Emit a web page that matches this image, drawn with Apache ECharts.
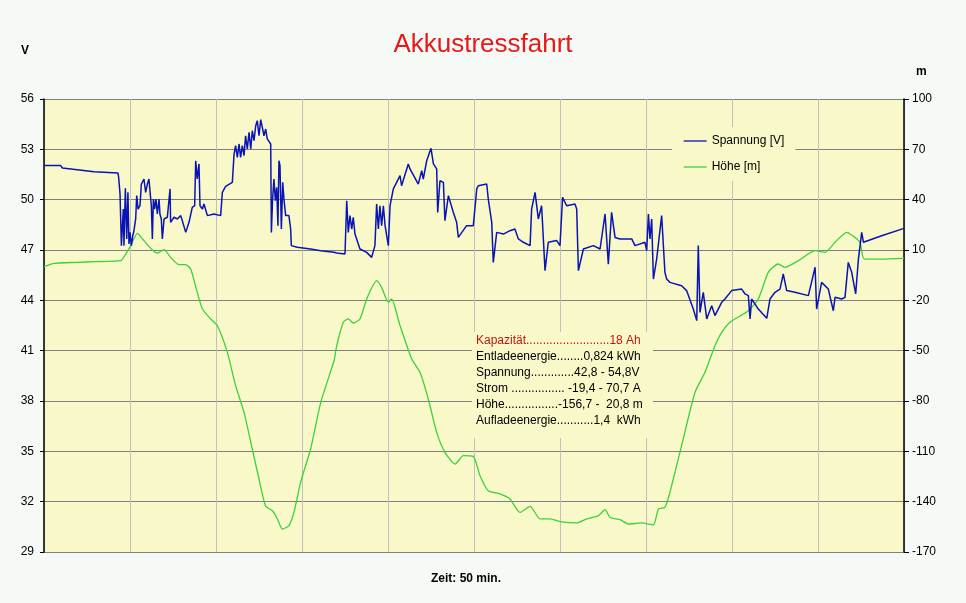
<!DOCTYPE html>
<html>
<head>
<meta charset="utf-8">
<script src="https://cdn.jsdelivr.net/npm/echarts@6/dist/echarts.min.js"></script>
<style>
html,body{margin:0;padding:0;background:#f5faf7;}
#chart{width:966px;height:603px;}
</style>
</head>
<body>
<div id="chart"></div>
<script>
// Zeit [min], Spannung [V]
var spannungData = [
[0,52.03],[0.97,52.03],[1.07,51.89],[1.94,51.79],[2.91,51.67],[4.30,51.59],[4.34,51.33],[4.42,50.34],[4.50,47.26],[4.57,47.16],
[4.61,49.44],[4.65,47.26],[4.73,50.68],[4.81,47.66],[4.88,50.44],[4.94,47.36],[5.00,48.05],[5.08,47.26],[5.16,47.85],[5.23,48.15],
[5.33,48.85],[5.39,50.24],[5.47,49.44],[5.58,49.64],[5.66,50.93],[5.74,50.83],[5.81,51.23],[5.91,50.44],[6.01,50.93],[6.10,51.23],
[6.20,51.33],[6.24,49.64],[6.30,47.66],[6.36,50.04],[6.43,49.44],[6.51,50.04],[6.59,49.15],[6.69,50.04],[6.74,49.15],[6.82,48.85],
[6.88,47.66],[6.98,48.85],[7.17,48.95],[7.33,50.64],[7.36,48.65],[7.56,48.95],[7.75,48.85],[7.95,49.05],[8.04,48.75],[8.24,48.05],
[8.43,48.65],[8.62,49.54],[8.76,49.64],[8.82,52.32],[8.91,51.23],[9.01,52.13],[9.07,49.64],[9.21,49.44],[9.30,49.74],[9.50,49.05],
[9.88,49.15],[10.27,49.05],[10.37,50.44],[10.56,50.79],[10.95,51.03],[11.01,51.07],[11.05,52.72],[11.14,53.22],[11.24,52.52],[11.34,53.32],
[11.43,52.52],[11.53,53.22],[11.63,52.62],[11.72,53.81],[11.82,53.02],[11.92,54.01],[12.02,53.02],[12.11,54.11],[12.21,53.52],[12.31,54.41],
[12.40,54.71],[12.50,53.81],[12.60,54.77],[12.69,54.71],[12.79,53.81],[12.89,54.21],[12.98,53.62],[13.08,53.72],[13.18,53.32],[13.22,48.05],
[13.29,50.04],[13.37,51.23],[13.45,49.94],[13.53,50.73],[13.60,48.45],[13.66,52.32],[13.72,52.03],[13.80,48.25],[13.88,51.03],[13.95,50.04],
[14.05,49.05],[14.15,49.15],[14.24,49.05],[14.34,48.25],[14.38,47.26],[14.73,47.16],[15.50,47.06],[16.09,46.96],[16.86,46.86],
[17.02,46.82],[17.50,46.76],[17.60,49.94],[17.69,48.05],[17.79,49.05],[17.89,48.25],[17.98,48.95],[18.08,47.95],[18.37,47.06],[18.76,46.86],
[19.05,46.56],[19.24,47.26],[19.34,49.74],[19.44,48.25],[19.53,49.64],[19.63,48.45],[19.73,49.64],[19.83,48.45],[20.02,47.26],[20.12,49.64],
[20.31,50.64],[20.70,51.43],[20.79,50.83],[21.18,52.13],[21.28,51.83],[21.76,50.93],[21.96,51.73],[22.05,51.23],[22.25,52.32],[22.50,53.06],
[22.64,52.13],[22.83,51.83],[22.89,49.24],[23.02,51.13],[23.22,51.03],[23.31,48.75],[23.51,50.24],[23.80,49.24],[23.99,48.65],[24.09,47.75],
[24.57,48.45],[24.96,48.45],[25.16,50.64],[25.25,50.83],[25.74,50.93],[25.83,50.04],[26.03,48.65],[26.12,46.26],[26.32,48.05],[26.71,47.95],
[27.09,48.15],[27.38,48.25],[27.58,47.66],[27.87,47.46],[28.26,47.26],[28.35,49.44],[28.55,50.44],[28.74,48.85],[28.93,49.64],[29.13,45.77],
[29.32,47.46],[29.81,47.56],[30.00,47.26],[30.15,50.14],[30.39,49.64],[30.87,49.74],[30.97,49.44],[31.07,45.77],[31.36,47.06],[31.94,47.26],
[32.33,47.06],[32.62,49.15],[32.81,46.16],[33.00,49.24],[33.20,47.75],[33.49,47.66],
[34.17,47.66],[34.36,47.26],[34.94,47.46],[35.04,46.96],[35.14,49.15],[35.23,47.66],[35.33,48.85],[35.43,45.27],[35.62,46.46],[35.91,49.05],
[36.10,45.67],[36.20,45.27],[36.39,45.07],[37.07,44.87],[37.36,44.58],[37.75,43.48],[37.95,42.79],[38.04,47.26],[38.14,43.28],[38.33,44.48],
[38.53,42.89],[38.82,43.68],[39.01,43.09],[39.40,43.88],[39.59,44.08],[39.98,44.58],[40.56,44.67],[40.76,44.38],[40.95,44.28],[41.05,42.89],
[41.14,44.08],[41.53,43.48],[42.02,42.93],[42.21,44.08],[42.50,44.48],[42.79,44.67],[42.98,45.57],[43.18,44.58],[43.66,44.48],[44.44,44.28],
[44.83,45.97],[44.92,43.48],[45.21,45.07],[45.60,44.67],[45.89,43.38],[45.99,44.18],[46.38,44.08],[46.57,44.18],[46.76,46.26],[46.96,45.67],
[47.19,44.38],[47.35,46.46],[47.54,48.05],[47.64,47.46],[47.73,47.56],[48.70,47.85],[50.00,48.29]
];
// Zeit [min], Höhe [m]
var hoeheData = [
[0,0.06],[0.58,2.05],[1.94,2.64],[2.91,3.04],[4.46,3.64],[4.75,7.61],[5.04,12.58],[5.43,19.93],[5.81,15.56],[6.30,9.99],
[6.59,8.21],[6.98,10.19],[7.36,5.62],[7.85,1.25],[8.24,1.25],[8.53,-1.33],[8.91,-15.24],[9.21,-25.17],[9.69,-31.13],[10.08,-35.11],
[10.66,-51.0],[11.14,-70.87],[11.63,-86.77],[12.11,-108.6],[12.50,-126.5],[12.89,-142.8],[13.28,-145.4],[13.57,-150.3],[13.86,-156.3],[14.24,-154.3],
[14.53,-146.4],[14.92,-128.5],[15.50,-108.6],[16.09,-80.8],[16.86,-56.0],[17.02,-47.0],[17.40,-33.1],[17.69,-31.1],[17.98,-33.5],[18.37,-31.1],
[18.76,-19.2],[19.34,-8.3],[19.63,-12.3],[20.02,-21.2],[20.21,-19.2],[20.70,-35.1],[21.38,-55.0],[21.86,-62.9],[22.34,-78.8],[22.83,-98.7],
[23.31,-110.6],[23.90,-117.6],[24.38,-112.6],[24.96,-113.0],[25.35,-124.5],[25.83,-133.5],[26.51,-135.4],[27.09,-138.4],[27.67,-146.4],[28.26,-142.8],
[28.84,-150.3],[29.42,-150.3],[30.00,-151.9],[30.97,-152.7],[31.55,-150.3],[32.23,-148.4],[32.62,-144.8],[32.91,-149.4],[33.49,-150.7],[33.97,-153.3],
[34.75,-152.7],[35.43,-153.9],[35.72,-144.4],[36.10,-143.4],[36.39,-134.5],[37.07,-106.6],[37.85,-74.8],[38.43,-62.9],[39.01,-47.0],[39.40,-39.1],
[39.88,-33.1],[40.56,-28.8],[40.95,-26.2],[41.53,-19.2],[42.11,-3.3],[42.69,1.65],[43.08,-0.3],[43.86,3.64],[44.83,9.6],[45.41,8.6],
[45.99,14.6],[46.67,20.5],[47.15,17.5],[47.44,14.6],[47.69,4.6],[48.70,4.6],[50.00,5.0]
];
var seriesNames = ['Spannung [V]', 'Höhe [m]'];
var seriesColors = ['#0a14b4', '#3cd23c'];
var infoLines = [
  'Kapazität.........................18 Ah',
  'Entladeenergie........0,824 kWh',
  'Spannung.............42,8 - 54,8V',
  'Strom ................ -19,4 - 70,7 A',
  'Höhe................-156,7 -  20,8 m',
  'Aufladeenergie...........1,4  kWh'
];
var titleText = 'Akkustressfahrt';
var xName = 'Zeit: 50 min.';

var FONT = '"Liberation Sans", Arial, sans-serif';
var PLOT_BG = '#f8f8c8';

var chart = echarts.init(document.getElementById('chart'));

var graphics = [
  { type: 'text', left: 21, top: 45, z: 10,
    style: { text: 'V', font: 'bold 12px ' + FONT, fill: '#000' } },
  { type: 'text', left: 916, top: 66, z: 10,
    style: { text: 'm', font: 'bold 12px ' + FONT, fill: '#000' } },
  { type: 'rect', shape: { x: 472, y: 332, width: 181, height: 106 }, z: 5,
    style: { fill: PLOT_BG } }
];
infoLines.forEach(function (t, i) {
  graphics.push({
    type: 'text', x: 476, y: 341 + i * 16, z: 6,
    style: { text: t, font: '12px ' + FONT, fill: i === 0 ? '#c41414' : '#000', textVerticalAlign: 'middle' }
  });
});

chart.setOption({
  backgroundColor: '#f5faf7',
  animation: false,
  title: {
    text: titleText, left: 'center', top: 27,
    textStyle: { color: '#e81818', fontSize: 26, fontWeight: 'normal', fontFamily: FONT }
  },
  legend: {
    orient: 'vertical', left: 672, top: 127,
    padding: [8, 11, 8, 11], itemWidth: 23, itemHeight: 14, itemGap: 14,
    backgroundColor: PLOT_BG,
    textStyle: { color: '#000', fontSize: 12, fontFamily: FONT },
    data: seriesNames.map(function (n, i) {
      return { name: n, itemStyle: { opacity: 0 }, lineStyle: { color: seriesColors[i], width: 1.3 } };
    })
  },
  grid: {
    left: 44, right: 62, top: 99, bottom: 51,
    show: true, backgroundColor: PLOT_BG, borderWidth: 0
  },
  xAxis: {
    type: 'value', min: 0, max: 50, interval: 5,
    name: xName, nameLocation: 'middle', nameGap: 21,
    nameTextStyle: { color: '#000', fontWeight: 'bold', fontSize: 12, fontFamily: FONT, padding: [0, 16, 0, 0] },
    axisLine: { show: false }, axisTick: { show: false }, axisLabel: { show: false },
    splitLine: { show: true, lineStyle: { color: '#c0c0c0', width: 1 } }
  },
  yAxis: [
    {
      type: 'value', min: 29, max: 56, interval: 3, position: 'left',
      axisLine: { show: true, lineStyle: { color: '#000', width: 1.5 } },
      axisTick: { show: true, length: 4, lineStyle: { color: '#000' } },
      axisLabel: { color: '#000', fontSize: 12, fontFamily: FONT, margin: 10 },
      splitLine: { show: true, lineStyle: { color: '#808080', width: 1 } }
    },
    {
      type: 'value', min: -170, max: 100, interval: 30, position: 'right',
      axisLine: { show: true, lineStyle: { color: '#000', width: 1.5 } },
      axisTick: { show: true, length: 5, lineStyle: { color: '#000' } },
      axisLabel: { color: '#000', fontSize: 12, fontFamily: FONT, margin: 8 },
      splitLine: { show: false }
    }
  ],
  series: [
    {
      name: seriesNames[0], type: 'line', yAxisIndex: 0, data: spannungData,
      symbol: 'none', lineStyle: { color: seriesColors[0], width: 1.5 }, itemStyle: { color: seriesColors[0] }, z: 3
    },
    {
      name: seriesNames[1], type: 'line', yAxisIndex: 1, data: hoeheData,
      symbol: 'none', smooth: 0.2, lineStyle: { color: seriesColors[1], width: 1.3 }, itemStyle: { color: seriesColors[1] }, z: 2
    }
  ],
  graphic: graphics
});
</script>
</body>
</html>
